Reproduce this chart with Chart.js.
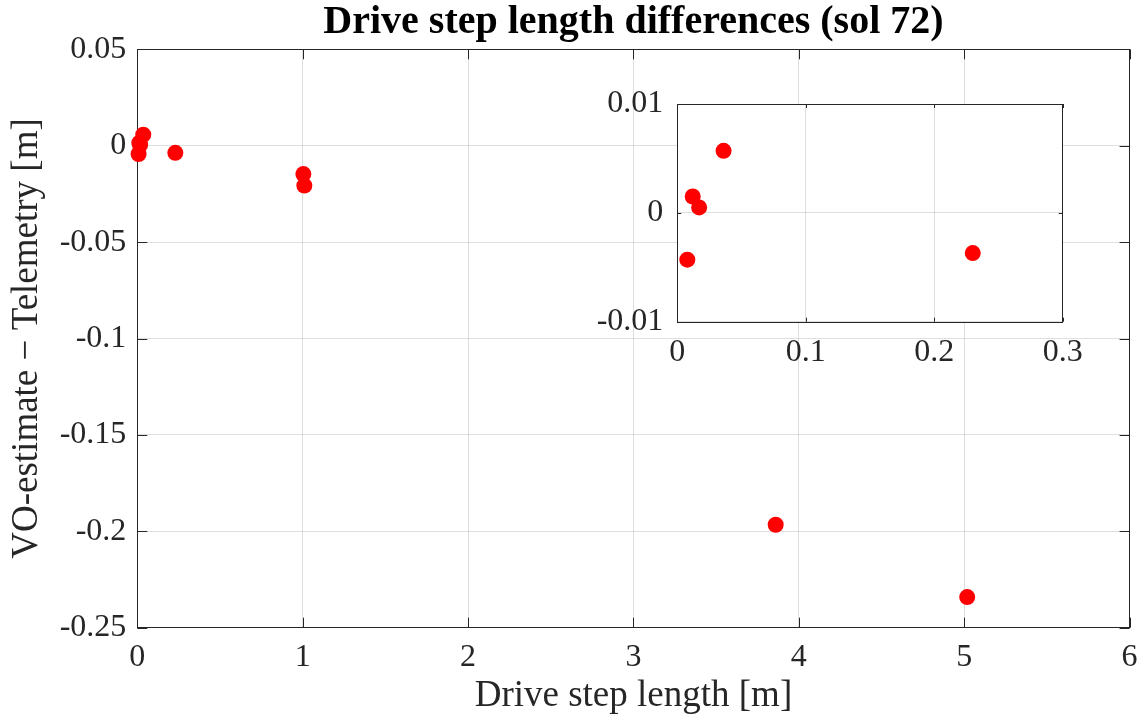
<!DOCTYPE html>
<html>
<head>
<meta charset="utf-8">
<script src="https://cdn.jsdelivr.net/npm/chart.js@4"></script>
<style>
  body { margin: 0; background: #fff; }
  #wrap { position: relative; width: 1148px; height: 720px; }
  #mainChart { position: absolute; left: 0; top: 0; }
  #insetChart { position: absolute; left: 590px; top: 64px; }
</style>
</head>
<body>
<div id="wrap">
  <canvas id="mainChart" width="1148" height="720"></canvas>
  <canvas id="insetChart" width="540" height="316"></canvas>
</div>
<script>
// data
var stepLength = [0.0078, 0.012, 0.017, 0.036, 0.230, 1.004, 1.010, 3.86, 5.018];
var stepDiff = [-0.0043, 0.0015, 0.0005, 0.0057, -0.0037, -0.0147, -0.0207, -0.1966, -0.2341];

var mainXTicks = [0, 1, 2, 3, 4, 5, 6];
var mainXLabels = ['0', '1', '2', '3', '4', '5', '6'];
var mainYTicks = [-0.25, -0.2, -0.15, -0.1, -0.05, 0, 0.05];
var mainYLabels = ['-0.25', '-0.2', '-0.15', '-0.1', '-0.05', '0', '0.05'];

var insetXTicks = [0, 0.1, 0.2, 0.3];
var insetXLabels = ['0', '0.1', '0.2', '0.3'];
var insetYTicks = [-0.01, 0, 0.01];
var insetYLabels = ['-0.01', '0', '0.01'];

Chart.defaults.font.family = '"Liberation Serif", "Times New Roman", serif';
Chart.defaults.color = '#262626';

// box around the plot area with inward tick marks, matlab style
var boxPlugin = {
    id: 'box',
    beforeDraw: function (chart, args, opts) {
        if (!opts.fill) return;
        var a = chart.chartArea, ctx = chart.ctx;
        ctx.save();
        ctx.fillStyle = '#ffffff';
        ctx.fillRect(a.left, a.top, a.right - a.left, a.bottom - a.top);
        ctx.restore();
    },
    beforeDatasetsDraw: function (chart, args, opts) {
        var a = chart.chartArea, ctx = chart.ctx;
        var x = chart.scales.x, y = chart.scales.y;
        var len = opts.len;
        ctx.save();
        ctx.strokeStyle = '#262626';
        ctx.lineWidth = 1;
        ctx.beginPath();
        x.ticks.forEach(function (t) {
            var px = Math.round(x.getPixelForValue(t.value)) + 0.5;
            ctx.moveTo(px, a.bottom); ctx.lineTo(px, a.bottom - len);
            ctx.moveTo(px, a.top); ctx.lineTo(px, a.top + len);
        });
        y.ticks.forEach(function (t) {
            var py = Math.round(y.getPixelForValue(t.value)) + 0.5;
            ctx.moveTo(a.left, py); ctx.lineTo(a.left + len, py);
            ctx.moveTo(a.right, py); ctx.lineTo(a.right - len, py);
        });
        ctx.stroke();
        ctx.strokeRect(Math.round(a.left) + 0.5, Math.round(a.top) + 0.5,
            Math.round(a.right - a.left), Math.round(a.bottom - a.top));
        ctx.restore();
    }
};

function points(xs, ys, maxX) {
    var out = [];
    for (var i = 0; i < xs.length; i++) {
        if (maxX === undefined || xs[i] <= maxX) out.push({ x: xs[i], y: ys[i] });
    }
    return out;
}

var gridColor = 'rgba(38,38,38,0.15)';

// main chart
var ctx = document.getElementById('mainChart').getContext('2d');
var chart = new Chart(ctx, {
    type: 'scatter',
    data: {
        datasets: [{
            data: points(stepLength, stepDiff),
            backgroundColor: '#ff0000',
            borderWidth: 0,
            pointRadius: 8,
            pointHoverRadius: 8,
            clip: false
        }]
    },
    options: {
        responsive: false,
        animation: false,
        events: [],
        layout: { padding: { left: 0, right: 14.7, top: 0, bottom: 0 } },
        plugins: {
            legend: { display: false },
            tooltip: { enabled: false },
            title: {
                display: true,
                fullSize: false,
                text: 'Drive step length differences (sol 72)',
                color: '#000',
                font: { size: 40, weight: 'bold', lineHeight: 1 },
                padding: { top: 3, bottom: 6.3 }
            },
            box: { len: 10, fill: false }
        },
        scales: {
            x: {
                type: 'linear',
                min: 0, max: 6,
                afterBuildTicks: function (s) { s.ticks = mainXTicks.map(function (v) { return { value: v }; }); },
                afterFit: function (s) { s.height = 92.3; },
                ticks: {
                    font: { size: 32 },
                    padding: 10.4,
                    maxRotation: 0,
                    callback: function (v, i) { return mainXLabels[i]; }
                },
                grid: { color: gridColor, drawTicks: false },
                border: { display: false },
                title: {
                    display: true,
                    text: 'Drive step length [m]',
                    font: { size: 37 },
                    padding: { top: 0, bottom: 1.5 }
                }
            },
            y: {
                type: 'linear',
                min: -0.25, max: 0.05,
                afterBuildTicks: function (s) { s.ticks = mainYTicks.map(function (v) { return { value: v }; }); },
                afterFit: function (s) { s.width = 137.3; },
                ticks: {
                    font: { size: 32 },
                    padding: 11,
                    callback: function (v, i) { return mainYLabels[i]; }
                },
                grid: { color: gridColor, drawTicks: false },
                border: { display: false },
                title: {
                    display: true,
                    text: 'VO-estimate \u2212 Telemetry [m]',
                    font: { size: 37 },
                    padding: { top: 5, bottom: 0 }
                }
            }
        }
    },
    plugins: [boxPlugin]
});

// zoomed inset near the origin
var ctx2 = document.getElementById('insetChart').getContext('2d');
var inset = new Chart(ctx2, {
    type: 'scatter',
    data: {
        datasets: [{
            data: points(stepLength, stepDiff, 0.3),
            backgroundColor: '#ff0000',
            borderWidth: 0,
            pointRadius: 8,
            pointHoverRadius: 8,
            clip: false
        }]
    },
    options: {
        responsive: false,
        animation: false,
        events: [],
        layout: { padding: { left: 0, right: 67.3, top: 40, bottom: 0 } },
        plugins: {
            legend: { display: false },
            tooltip: { enabled: false },
            box: { len: 4, fill: true }
        },
        scales: {
            x: {
                type: 'linear',
                min: 0, max: 0.3,
                afterBuildTicks: function (s) { s.ticks = insetXTicks.map(function (v) { return { value: v }; }); },
                afterFit: function (s) { s.height = 58.3; },
                ticks: {
                    font: { size: 32 },
                    padding: 11.4,
                    maxRotation: 0,
                    callback: function (v, i) { return insetXLabels[i]; }
                },
                grid: { color: gridColor, drawTicks: false },
                border: { display: false }
            },
            y: {
                type: 'linear',
                min: -0.01, max: 0.01,
                afterBuildTicks: function (s) { s.ticks = insetYTicks.map(function (v) { return { value: v }; }); },
                afterFit: function (s) { s.width = 87.3; },
                ticks: {
                    font: { size: 32 },
                    padding: 14,
                    callback: function (v, i) { return insetYLabels[i]; }
                },
                grid: { color: gridColor, drawTicks: false },
                border: { display: false }
            }
        }
    },
    plugins: [boxPlugin]
});
</script>
</body>
</html>
